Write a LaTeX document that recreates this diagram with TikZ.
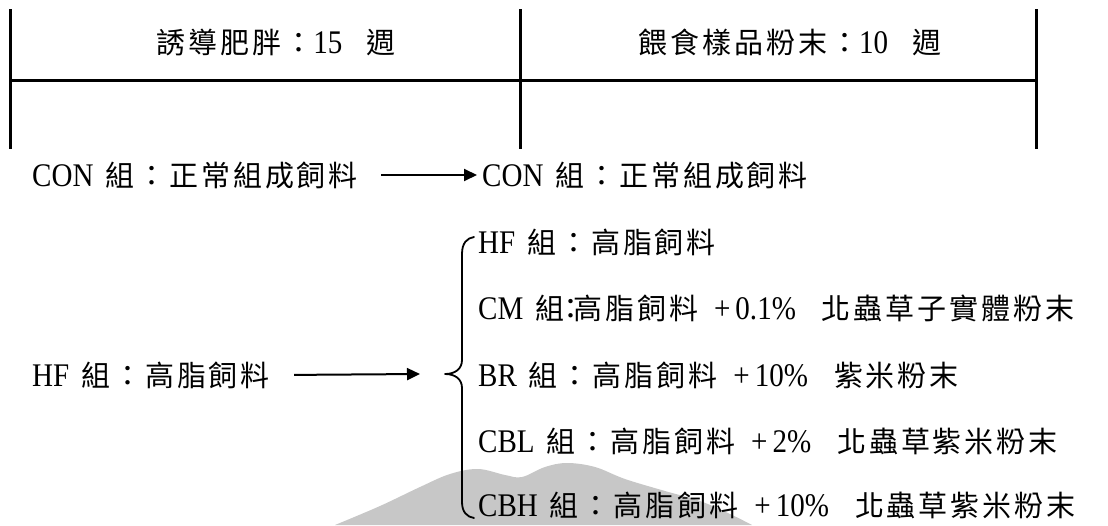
\documentclass[tikz,border=0pt]{standalone}
\usepackage{fontspec}
\setmainfont{Noto Sans CJK TC}[LetterSpace=10]
\newfontfamily\tm{Liberation Serif}[FakeStretch=0.88]
\newcommand\latn[1]{{\tm\fontsize{33}{33}\selectfont #1}}
\newcommand\plusgap[1]{\hspace{16pt}\latn{+}\hspace{5pt}\latn{#1}\hspace{26pt}}
\usetikzlibrary{arrows.meta}
\tikzset{
  lbl/.style={inner sep=0pt, anchor=base west, font=\fontsize{29}{29}\selectfont},
  ttl/.style={inner sep=0pt, anchor=base, font=\fontsize{29}{29}\selectfont},
  frameline/.style={line width=3pt},
  conn/.style={line width=2pt, -{Triangle[length=13pt,width=12pt]}},
  bracepath/.style={line width=1.8pt, line cap=round, line join=round},
  wmark/.style={fill=black!22, draw=none}
}
\begin{document}
\begin{tikzpicture}[x=1pt,y=-1pt]
\useasboundingbox (0,0) rectangle (1108,525);
% watermark
\fill[wmark] plot[smooth, tension=0.6] coordinates {(335,525) (380,506) (420,487) (450,474) (478,469) (505,475) (522,477) (545,467) (567,463) (595,467) (625,479) (665,491) (700,501) (730,514) (752,525)} -- cycle;
% timeline frame
\coordinate (l1) at (10,9);   \coordinate (l1b) at (10,149);
\coordinate (l2) at (520,9);  \coordinate (l2b) at (520,149);
\coordinate (l3) at (1036,9); \coordinate (l3b) at (1036,149);
\coordinate (hA) at (10,80);  \coordinate (hB) at (1036,80);
\draw[frameline] (l1) -- (l1b);
\draw[frameline] (l2) -- (l2b);
\draw[frameline] (l3) -- (l3b);
\draw[frameline] (hA) -- (hB);
\node[ttl] (t1) at (276,53) {誘導肥胖：\latn{15}\hspace{24pt}週};
\node[ttl] (t2) at (790,53) {餵食樣品粉末：\latn{10}\hspace{24pt}週};
% rows
\node[lbl] (conL) at (32,186) {\latn{CON}\hspace{12pt}組：正常組成飼料};
\node[lbl] (conR) at (482,186) {\latn{CON}\hspace{12pt}組：正常組成飼料};
\node[lbl] (hfL) at (32,386) {\latn{HF}\hspace{12pt}組：高脂飼料};
\node[lbl] (hf)  at (478,253) {\latn{HF}\hspace{12pt}組：高脂飼料};
\node[lbl] (cm)  at (478,319) {\latn{CM}\hspace{12pt}組\hspace{-8pt}：\hspace{-12pt}高脂飼料\plusgap{0.1\%}北蟲草子實體粉末};
\node[lbl] (br)  at (478,386) {\latn{BR}\hspace{12pt}組：高脂飼料\plusgap{10\%}紫米粉末};
\node[lbl] (cbl) at (478,452) {\latn{CBL}\hspace{12pt}組：高脂飼料\plusgap{2\%}北蟲草紫米粉末};
\node[lbl] (cbh) at (478,516) {\latn{CBH}\hspace{12pt}組：高脂飼料\plusgap{10\%}北蟲草紫米粉末};
% brace
\coordinate (btop) at (474,237);
\coordinate (btip) at (445,374);
\coordinate (bbot) at (474,518);
\draw[bracepath] (btop) .. controls (467,238) and (462,243) .. (462,254)
  -- (462,360) .. controls (462,369) and (455,374) .. (btip)
  .. controls (455,374) and (462,379) .. (462,388)
  -- (462,502) .. controls (462,512) and (467,517) .. (bbot);
% arrows
\draw[conn] ([xshift=23pt]conL.east) -- ([xshift=-5pt]conR.west);
\draw[conn] ([xshift=24pt]hfL.east) -- ([xshift=-25pt]btip);
\end{tikzpicture}
\end{document}
